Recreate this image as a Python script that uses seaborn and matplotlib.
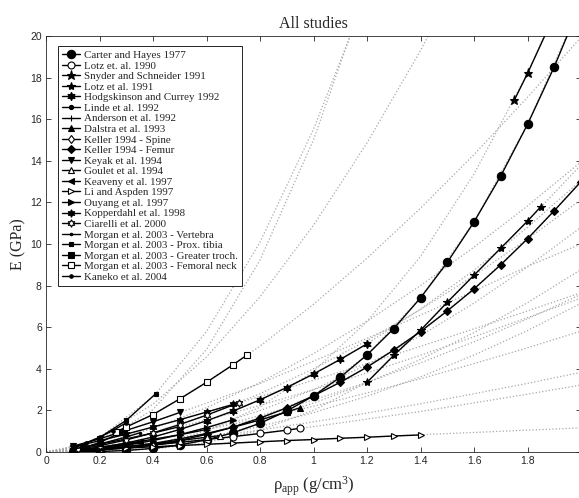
import matplotlib
matplotlib.use("Agg")
import matplotlib.pyplot as plt
import seaborn as sns
from matplotlib.ticker import FuncFormatter, MultipleLocator

# ------------------------
# DADOS (E em GPa, rho_app em g/cm3)
# ------------------------
# grade comum para as curvas pontilhadas (extrapolacao de cada estudo)
DOT_X = [0, 0.1, 0.2, 0.4, 0.6, 0.8, 1.0, 1.2, 1.4, 1.6, 1.8, 2.0]

carter_x = [0.1, 0.2, 0.3, 0.4, 0.5, 0.6, 0.7, 0.8, 0.9, 1.0, 1.1, 1.2, 1.3, 1.4, 1.5, 1.6, 1.7, 1.8, 1.9, 2.0]
carter_e = [0.003, 0.022, 0.073, 0.173, 0.338, 0.583, 0.926, 1.382, 1.968, 2.7, 3.594, 4.666, 5.932, 7.409, 9.113, 11.06, 13.27, 15.75, 18.52, 21.6]
carter_dot = [0, 0.003, 0.022, 0.173, 0.583, 1.382, 2.7, 4.666, 7.409, 11.06, 15.75, 21.6]

lotz90_x = [0.4, 0.5, 0.6, 0.7, 0.8, 0.9, 0.95]
lotz90_e = [0.34, 0.46, 0.6, 0.74, 0.89, 1.05, 1.14]
lotz90_dot = [0, 0.05, 0.13, 0.34, 0.60, 0.89, 1.22, 1.58, 1.95, 2.36, 2.78, 3.22]

snyder_x = [1.75, 1.8, 1.9]
snyder_e = [16.9, 18.2, 21.0]
snyder_dot = [0, 0.009, 0.056, 0.35, 1.01, 2.16, 3.88, 6.27, 9.4, 13.36, 18.2, 24.0]

lotz91_x = [1.2, 1.3, 1.4, 1.5, 1.6, 1.7, 1.8, 1.85]
lotz91_e = [3.35, 4.65, 5.85, 7.2, 8.5, 9.8, 11.1, 11.8]
lotz91_dot = [0, 0.002, 0.02, 0.14, 0.45, 1.05, 2.0, 3.35, 5.85, 8.5, 11.1, 13.8]

hodg_x = [0.2, 0.3, 0.4, 0.5, 0.6, 0.7, 0.8, 0.9, 1.0, 1.1, 1.2]
hodg_e = [0.21, 0.43, 0.72, 1.08, 1.5, 1.97, 2.51, 3.1, 3.75, 4.45, 5.2]
hodg_dot = [0, 0.06, 0.21, 0.72, 1.5, 2.51, 3.75, 5.2, 6.87, 8.74, 10.8, 13.06]

linde_x = [0.1, 0.2, 0.3, 0.4, 0.5]
linde_e = [0.15, 0.37, 0.63, 0.91, 1.22]
linde_dot = [0, 0.15, 0.37, 0.91, 1.54, 2.24, 3.0, 3.8, 4.65, 5.54, 6.46, 7.4]

anderson_x = [0.1, 0.2, 0.3, 0.4, 0.5, 0.6]
anderson_e = [0.088, 0.23, 0.41, 0.61, 0.83, 1.08]
anderson_dot = [0, 0.088, 0.23, 0.61, 1.08, 1.61, 2.2, 2.84, 3.52, 4.25, 5.01, 5.81]

dalstra_x = [0.1, 0.2, 0.3, 0.4, 0.5, 0.6, 0.7, 0.8, 0.9, 0.95]
dalstra_e = [0.03, 0.11, 0.24, 0.41, 0.63, 0.89, 1.19, 1.54, 1.92, 2.13]
dalstra_dot = [0, 0.03, 0.11, 0.41, 0.89, 1.54, 2.35, 3.32, 4.45, 5.74, 7.18, 8.77]

kspine_x = [0.1, 0.2, 0.3, 0.4, 0.5]
kspine_e = [0.023, 0.086, 0.19, 0.33, 0.5]
kspine_dot = [0, 0.023, 0.086, 0.33, 0.71, 1.23, 1.89, 2.68, 3.61, 4.66, 5.84, 7.15]

kfemur_x = [0.3, 0.4, 0.5, 0.6, 0.7, 0.8, 0.9, 1.0, 1.1, 1.2, 1.3, 1.4, 1.5, 1.6, 1.7, 1.8, 1.9, 2.0]
kfemur_e = [0.175, 0.337, 0.56, 0.845, 1.2, 1.63, 2.12, 2.7, 3.35, 4.08, 4.9, 5.79, 6.78, 7.84, 9.0, 10.25, 11.6, 13.0]
kfemur_dot = [0, 0.015, 0.07, 0.337, 0.845, 1.63, 2.7, 4.08, 5.79, 7.84, 10.25, 13.0]

keyak_x = [0.1, 0.2, 0.3, 0.4, 0.5]
keyak_e = [0.28, 0.63, 1.04, 1.45, 1.9]
keyak_dot = [0, 0.28, 0.63, 1.45, 2.35, 3.29, 4.37, 5.46, 6.58, 7.74, 8.92, 10.0]

goulet_x = [0.1, 0.2, 0.3, 0.4, 0.5, 0.6, 0.65]
goulet_e = [0.058, 0.15, 0.27, 0.40, 0.55, 0.71, 0.79]
goulet_dot = [0, 0.058, 0.15, 0.40, 0.71, 1.06, 1.45, 1.87, 2.32, 2.8, 3.3, 3.83]

keaveny_x = [0.1, 0.2, 0.3, 0.35]
keaveny_e = [0.063, 0.19, 0.36, 0.47]
keaveny_dot = [0, 0.063, 0.19, 0.58, 1.10, 1.75, 2.5, 3.35, 4.28, 5.3, 6.4, 7.58]

li_x = [0.2, 0.3, 0.4, 0.5, 0.6, 0.7, 0.8, 0.9, 1.0, 1.1, 1.2, 1.3, 1.4]
li_e = [0.13, 0.19, 0.25, 0.31, 0.37, 0.43, 0.49, 0.55, 0.6, 0.66, 0.71, 0.77, 0.82]
li_dot = [0, 0.067, 0.13, 0.25, 0.37, 0.49, 0.6, 0.71, 0.83, 0.94, 1.05, 1.16]

ouyang_x = [0.1, 0.2, 0.3, 0.4, 0.5, 0.6, 0.7]
ouyang_e = [0.042, 0.15, 0.32, 0.55, 0.83, 1.17, 1.55]
ouyang_dot = [0, 0.042, 0.15, 0.55, 1.17, 1.99, 3.0, 4.2, 5.59, 7.16, 8.9, 10.8]

kopper_x = [0.1, 0.2, 0.3, 0.4, 0.5, 0.6, 0.7]
kopper_e = [0.24, 0.54, 0.86, 1.2, 1.55, 1.92, 2.29]
kopper_dot = [0, 0.24, 0.54, 1.2, 1.92, 2.67, 3.45, 4.25, 5.08, 5.92, 6.78, 7.66]

ciarelli_x = [0.12, 0.2, 0.3, 0.4, 0.5, 0.6, 0.72]
ciarelli_e = [0.13, 0.3, 0.58, 0.92, 1.32, 1.77, 2.36]
ciarelli_dot = [0, 0.1, 0.3, 0.92, 1.77, 2.8, 4.0, 5.36, 6.85, 8.48, 10.24, 12.13]

mvert_x = [0.1, 0.2, 0.3, 0.35]
mvert_e = [0.13, 0.38, 0.72, 0.92]
mvert_dot = [0, 0.13, 0.38, 1.13, 2.13, 3.34, 4.73, 6.29, 8.0, 9.85, 11.83, 13.95]

mtibia_x = [0.1, 0.2, 0.3, 0.41]
mtibia_e = [0.18, 0.69, 1.52, 2.8]
mtibia_dot = [0, 0.18, 0.69, 2.65, 5.79, 10.09, 15.52, 22.06, 29.7, 38.4, 48.3, 59.1]

mtroch_x = [0.14, 0.2, 0.28]
mtroch_e = [0.21, 0.45, 0.94]
mtroch_dot = [0, 0.1, 0.45, 2.04, 4.93, 9.23, 15.01, 22.3, 31.4, 42.5, 54.6, 68.0]

mneck_x = [0.26, 0.3, 0.4, 0.5, 0.6, 0.7, 0.75]
mneck_e = [0.95, 1.2, 1.8, 2.55, 3.35, 4.2, 4.65]
mneck_dot = [0, 0.23, 0.65, 1.8, 3.35, 5.09, 7.1, 9.32, 11.72, 14.3, 17.05, 19.94]

kaneko_x = [0.1, 0.15, 0.2, 0.25, 0.3]
kaneko_e = [0.22, 0.43, 0.71, 1.03, 1.41]
kaneko_dot = [0, 0.22, 0.71, 2.3, 4.57, 7.46, 10.9, 14.86, 19.3, 24.2, 29.6, 35.5]

# (rotulo, x, E, pontilhado, marcador, tamanho, aberto?)
ESTUDOS = [
    ("Carter and Hayes 1977", carter_x, carter_e, carter_dot, "o", 6, False),
    ("Lotz et. al. 1990", lotz90_x, lotz90_e, lotz90_dot, "o", 5, True),
    ("Snyder and Schneider 1991", snyder_x, snyder_e, snyder_dot, "*", 6.5, False),
    ("Lotz et al. 1991", lotz91_x, lotz91_e, lotz91_dot, "*", 6, False),
    ("Hodgskinson and Currey 1992", hodg_x, hodg_e, hodg_dot, (6, 1, 0), 6, False),
    ("Linde et al. 1992", linde_x, linde_e, linde_dot, ".", 6, False),
    ("Anderson et al. 1992", anderson_x, anderson_e, anderson_dot, "+", 5, False),
    ("Dalstra et al. 1993", dalstra_x, dalstra_e, dalstra_dot, "^", 5, False),
    ("Keller 1994 - Spine", kspine_x, kspine_e, kspine_dot, "d", 4.5, True),
    ("Keller 1994 - Femur", kfemur_x, kfemur_e, kfemur_dot, "D", 4.5, False),
    ("Keyak et al. 1994", keyak_x, keyak_e, keyak_dot, "v", 5, False),
    ("Goulet et al. 1994", goulet_x, goulet_e, goulet_dot, "^", 5, True),
    ("Keaveny et al. 1997", keaveny_x, keaveny_e, keaveny_dot, "<", 5, False),
    ("Li and Aspden 1997", li_x, li_e, li_dot, ">", 5, True),
    ("Ouyang et al. 1997", ouyang_x, ouyang_e, ouyang_dot, ">", 5, False),
    ("Kopperdahl et al. 1998", kopper_x, kopper_e, kopper_dot, (6, 1, 0), 5.5, False),
    ("Ciarelli et al. 2000", ciarelli_x, ciarelli_e, ciarelli_dot, (6, 1, 0), 5.5, True),
    ("Morgan et al. 2003 - Vertebra", mvert_x, mvert_e, mvert_dot, ".", 3.5, False),
    ("Morgan et al. 2003 - Prox. tibia", mtibia_x, mtibia_e, mtibia_dot, "s", 3.5, False),
    ("Morgan et al. 2003 - Greater troch.", mtroch_x, mtroch_e, mtroch_dot, "s", 5, False),
    ("Morgan et al. 2003 - Femoral neck", mneck_x, mneck_e, mneck_dot, "s", 5, True),
    ("Kaneko et al. 2004", kaneko_x, kaneko_e, kaneko_dot, ".", 5, False),
]

# ------------------------
# ESTILO
# ------------------------
sns.set_style("ticks")
plt.rcParams["font.family"] = ["Liberation Serif", "DejaVu Serif"]
plt.rcParams["mathtext.fontset"] = "custom"
plt.rcParams["mathtext.rm"] = "Liberation Serif"
plt.rcParams["mathtext.it"] = "Liberation Serif"
plt.rcParams["xtick.direction"] = "in"
plt.rcParams["ytick.direction"] = "in"
plt.rcParams["xtick.top"] = True
plt.rcParams["ytick.right"] = True

fig = plt.figure(figsize=(5.79, 4.98), dpi=100)
ax = fig.add_axes([46 / 579, 46 / 498, 535 / 579, 416 / 498])

# curvas pontilhadas (cinza) em todo o intervalo
for nome, x, e, dot, mk, ms, aberto in ESTUDOS:
    sns.lineplot(x=DOT_X, y=dot, ax=ax, color="#a8a8a8", linestyle=":",
                 linewidth=0.9, zorder=1, estimator=None, sort=False)

# curvas solidas com marcadores dentro da faixa de cada estudo
for nome, x, e, dot, mk, ms, aberto in ESTUDOS:
    sns.lineplot(x=x, y=e, ax=ax, color="black", linewidth=1.0,
                 marker=mk, markersize=ms, markeredgecolor="black",
                 markeredgewidth=0.8,
                 markerfacecolor="white" if aberto else "black",
                 label=nome, zorder=3, estimator=None, sort=False)

ax.set_xlim(0, 2)
ax.set_ylim(0, 20)
ax.xaxis.set_major_locator(MultipleLocator(0.2))
ax.yaxis.set_major_locator(MultipleLocator(2))
ax.xaxis.set_major_formatter(FuncFormatter(lambda v, p: f"{v:g}"))
ax.tick_params(axis="both", which="major", length=3.5, width=0.6,
               labelsize=7.5, pad=3)
for lab in ax.get_xticklabels() + ax.get_yticklabels():
    lab.set_fontfamily("Liberation Sans")
for s in ax.spines.values():
    s.set_linewidth(0.6)

ax.set_title("All studies", fontsize=11.5, pad=6)
ax.set_ylabel("E (GPa)", fontsize=11.5, labelpad=3)
ax.set_xlabel(r"$\mathrm{\rho_{app}}$ (g/cm$^{3}$)", fontsize=12, labelpad=6)

leg = ax.legend(loc="upper left", bbox_to_anchor=(0.022, 0.976), fontsize=7.9,
                frameon=True, fancybox=False, edgecolor="black", framealpha=1,
                labelspacing=0.08, handlelength=1.6, handletextpad=0.35,
                borderpad=0.4, borderaxespad=0)
leg.get_frame().set_linewidth(0.6)
leg.set_zorder(5)

fig.savefig("out.png", dpi=100)
